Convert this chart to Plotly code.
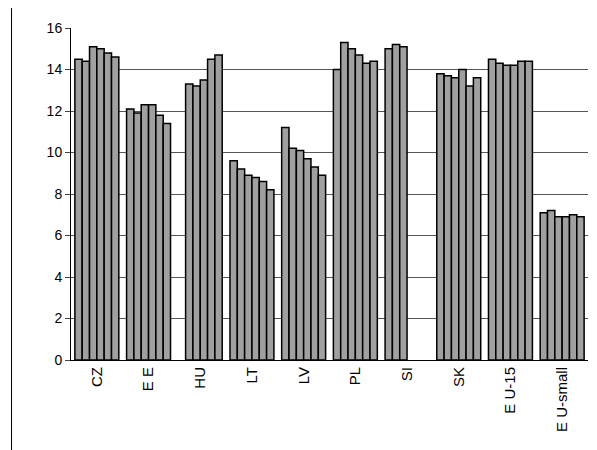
import plotly.graph_objects as go

categories = ["CZ", "EE", "HU", "LT", "LV", "PL", "SI", "SK", "EU-15", "EU-small"]
tick_labels = ["CZ", "E E", "HU", "LT", "LV", "PL", "SI", "SK", "E U-15", "E U-small"]

s1 = [14.5, 12.1, None, 9.6, 11.2, 14.0, 15.0, 13.8, 14.5, 7.1]
s2 = [14.4, 11.9, 13.3, 9.2, 10.2, 15.3, 15.2, 13.7, 14.3, 7.2]
s3 = [15.1, 12.3, 13.2, 8.9, 10.1, 15.0, 15.1, 13.6, 14.2, 6.9]
s4 = [15.0, 12.3, 13.5, 8.8, 9.7, 14.7, None, 14.0, 14.2, 6.9]
s5 = [14.8, 11.8, 14.5, 8.6, 9.3, 14.3, None, 13.2, 14.4, 7.0]
s6 = [14.6, 11.4, 14.7, 8.2, 8.9, 14.4, None, 13.6, 14.4, 6.9]

fig = go.Figure()
for s in [s1, s2, s3, s4, s5, s6]:
    fig.add_trace(go.Bar(x=categories, y=s, marker=dict(color="#a0a0a0", line=dict(color="black", width=1.5)),
                         showlegend=False))

fig.update_layout(
    width=597, height=450,
    paper_bgcolor="white", plot_bgcolor="white",
    margin=dict(l=63, r=17, t=16, b=98),
    barmode="group", bargap=0.15, bargroupgap=0,
    font=dict(family="Arial", size=15, color="black"),
    xaxis=dict(tickvals=categories, ticktext=tick_labels, tickangle=-90,
               showline=True, linecolor="black", ticks="outside", ticklen=0),
    yaxis=dict(range=[0, 16], dtick=2, showgrid=True, gridcolor="#555", gridwidth=1,
               showline=True, linecolor="black", ticks="outside", ticklen=5, zeroline=False,
               tickfont=dict(size=14)),
    shapes=[dict(type="line", xref="paper", yref="paper", x0=-0.115, x1=-0.115, y0=-0.3, y1=1.06,
                 line=dict(color="black", width=1))],
)
fig.write_html("out.html")
